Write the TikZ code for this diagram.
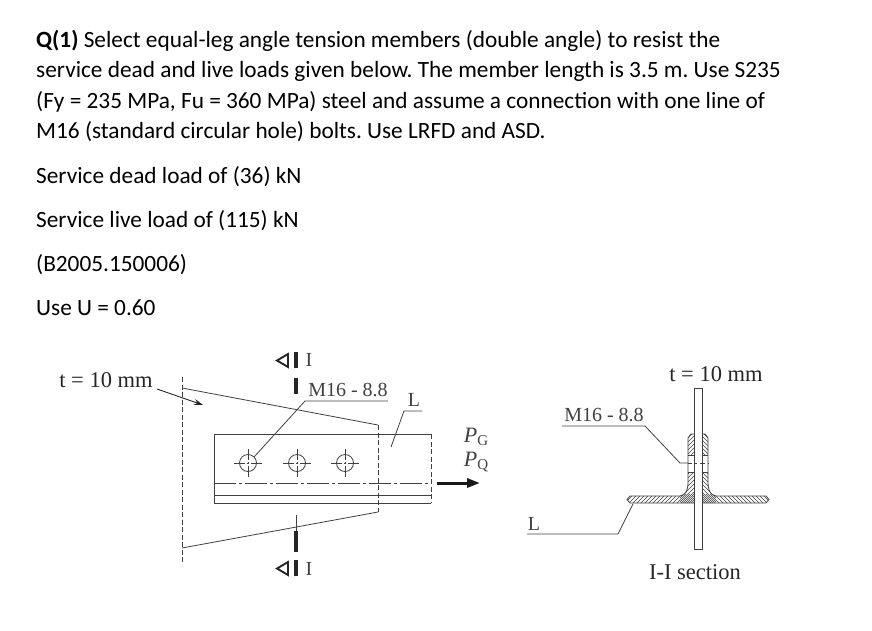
\documentclass[tikz,border=0pt]{standalone}
\usepackage{fontspec}
\setmainfont{Carlito}
\newfontfamily\drawfont{Liberation Serif}
\usetikzlibrary{arrows.meta}
\definecolor{ink}{gray}{0.25}
\tikzset{
  body/.style={anchor=base west,inner sep=0pt,font=\frenchspacing\fontsize{23.3}{26}\selectfont,text=black},
  lab/.style={inner sep=0pt,font=\drawfont\fontsize{22.5}{24}\selectfont,text=black!85},
  labg/.style={inner sep=0pt,font=\drawfont\fontsize{20}{22}\selectfont,text=ink},
  thin line/.style={draw=ink,line width=0.8pt},
  dashline/.style={draw=ink,line width=0.8pt,dash pattern=on 5pt off 2.5pt},
  dashdot/.style={draw=ink,line width=0.8pt,dash pattern=on 22pt off 3pt on 3pt off 3pt},
  secbar/.style={draw=black!85,line width=3.6pt},
  sectri/.style={draw=black!85,line width=1.9pt,line join=miter},
  hatchl/.style={draw=ink,line width=0.55pt},
}
\begin{document}
\begin{tikzpicture}[x=1pt,y=-1pt]
\useasboundingbox (0,0) rectangle (872,630);
% text
\node[body] (t1) at (36,47) {\textbf{Q(1)} Select equal-leg angle tension members (double angle) to resist the};
\node[body] (t2) at (36,77) {service dead and live loads given below. The member length is 3.5 m. Use S235};
\node[body] (t3) at (36,108) {(Fy = 235 MPa, Fu = 360 MPa) steel and assume a connection with one line of};
\node[body] (t4) at (36,138) {M16 (standard circular hole) bolts. Use LRFD and ASD.};
\node[body] (t5) at (36,183) {Service dead load of (36) kN};
\node[body] (t6) at (36,227) {Service live load of (115) kN};
\node[body] (t7) at (36,271) {(B2005.150006)};
\node[body] (t8) at (36,315) {Use U = 0.60};
% --- left elevation
\node[lab] (tmm) at (106,380.5) {t = 10 mm};
\coordinate (g1) at (182,388); \coordinate (g2) at (378,425);
\coordinate (g3) at (378,512); \coordinate (g4) at (182,548);
\coordinate (e1) at (182,377); \coordinate (e2) at (182,563);
\draw[dashline] (e1) -- (e2);
\draw[thin line] (g1) -- (g2) (g3) -- (g4);
\draw[dashline] (g2) -- (g3);
\coordinate (r1) at (214,434); \coordinate (r2) at (431,434);
\coordinate (r3) at (431,503); \coordinate (r4) at (214,503);
\draw[thin line] (r2) -- (r1) -- (r4) -- (r3);
\draw[dashline] (r2) -- (r3);
\draw[thin line] (214,495) -- (431,495);
\draw[dashdot] (214,483) -- (431,483);
\draw[thin line] (296,515) -- (296,531);
\foreach \hx/\hn in {248/ha,297/hb,345/hc}{
  \node[circle,draw=ink,line width=0.8pt,minimum size=17pt,inner sep=0pt] (\hn) at (\hx,463) {};
  \draw[thin line] (\hx-14,463) -- (\hx-3,463) (\hx-1,463) -- (\hx+1,463) (\hx+3,463) -- (\hx+14,463)
     (\hx,449) -- (\hx,460) (\hx,462) -- (\hx,464) (\hx,466) -- (\hx,477);
}
% leaders
\coordinate (m1) at (305,401); \coordinate (m2) at (388,401);
\draw[thin line] (ha.north east) -- (m1) -- (m2);
\node[labg] (mlab) at (348,390) {M16 - 8.8};
\coordinate (l0) at (391,447); \coordinate (l1) at (404,411); \coordinate (l2) at (422,411);
\draw[thin line] (l0) -- (l1) -- (l2);
\node[labg] (llab) at (414,400) {L};
% arrows
\coordinate (a1) at (157,389); \coordinate (a2) at (203,405);
\draw[draw=black!85,line width=0.9pt,-{Stealth[length=9pt,width=6pt]}] (a1) -- (a2);
\coordinate (p1) at (437,483); \coordinate (p2) at (480,483);
\draw[draw=black!90,line width=3pt,-{Stealth[length=13pt,width=9pt,inset=0pt]}] (p1) -- (p2);
\node[labg,font=\drawfont\itshape\fontsize{22}{22}\selectfont] (pg) at (476,437) {P\raisebox{-3pt}{\fontsize{15}{15}\selectfont\upshape G}};
\node[labg,font=\drawfont\itshape\fontsize{22}{22}\selectfont] (pq) at (476,462) {P\raisebox{-3pt}{\fontsize{15}{15}\selectfont\upshape Q}};
% section marks
\draw[secbar] (296,352) -- (296,368) (296,378) -- (296,394) (296,531) -- (296,552) (296,560) -- (296,576);
\draw[sectri] (288,354) -- (277,360.5) -- (288,367) -- cycle;
\draw[sectri] (288,562) -- (277,568.5) -- (288,575) -- cycle;
\node[labg] (i1) at (309,360) {I};
\node[labg] (i2) at (309,569) {I};
% --- section
\node[lab] (tmm2) at (716,374) {t = 10 mm};
\node[labg] (msec) at (604,415) {M16 - 8.8};
\node[labg] (lsec) at (534,524) {L};
\node[lab] (isec) at (695,572) {I-I section};
\begin{scope}
  \clip (694,503) -- (630,503) -- (627,499.5) -- (630,496) -- (680,496) .. controls (686,495) and (688,490) .. (688,482) -- (688,472) -- (694,472) -- cycle;
  \foreach \k in {0,4,...,100}{\draw[hatchl] (620+\k,508) -- (634+\k,494);}
  \foreach \k in {0,4,...,44}{\draw[hatchl] (680,\k+474) -- (698,\k+456);}
\end{scope}
\begin{scope}
  \clip (702,503) -- (766,503) -- (769,499.5) -- (766,496) -- (716,496) .. controls (710,495) and (708,490) .. (708,482) -- (708,472) -- (702,472) -- cycle;
  \foreach \k in {0,4,...,100}{\draw[hatchl] (690+\k,494) -- (704+\k,508);}
  \foreach \k in {0,4,...,44}{\draw[hatchl] (698,\k+456) -- (716,\k+474);}
\end{scope}
\begin{scope}
  \clip (694,455) -- (688,455) -- (688,438) -- (691,434) -- (694,434) -- cycle;
  \foreach \k in {0,4,...,32}{\draw[hatchl] (684,\k+434) -- (698,\k+420);}
\end{scope}
\begin{scope}
  \clip (702,455) -- (708,455) -- (708,438) -- (705,434) -- (702,434) -- cycle;
  \foreach \k in {0,4,...,32}{\draw[hatchl] (698,\k+420) -- (712,\k+434);}
\end{scope}
\draw[thin line,line join=round] (694,503) -- (630,503) -- (627,499.5) -- (630,496) -- (680,496) .. controls (686,495) and (688,490) .. (688,482) -- (688,438) -- (691,434) -- (694,434);
\draw[thin line,line join=round] (702,503) -- (766,503) -- (769,499.5) -- (766,496) -- (716,496) .. controls (710,495) and (708,490) .. (708,482) -- (708,438) -- (705,434) -- (702,434);
\draw[thin line] (688,455) -- (708,455) (688,472) -- (708,472);
\draw[thin line,dash pattern=on 4pt off 2.5pt] (688,463.5) -- (708,463.5);
\node[draw=ink,line width=0.8pt,fill=white,minimum width=8pt,minimum height=161pt,inner sep=0pt] (plate) at (698,468.5) {};
\draw[thin line,dash pattern=on 3pt off 3pt] (694,463.5) -- (702,463.5);
\coordinate (ms1) at (562,426); \coordinate (ms2) at (645,426); \coordinate (ms3) at (680,463); \coordinate (ms4) at (688,463);
\draw[thin line] (ms1) -- (ms2) -- (ms3) -- (ms4);
\coordinate (ls1) at (527,534); \coordinate (ls2) at (618,534); \coordinate (ls3) at (633,504);
\draw[thin line] (ls1) -- (ls2) -- (ls3);
\end{tikzpicture}
\end{document}
